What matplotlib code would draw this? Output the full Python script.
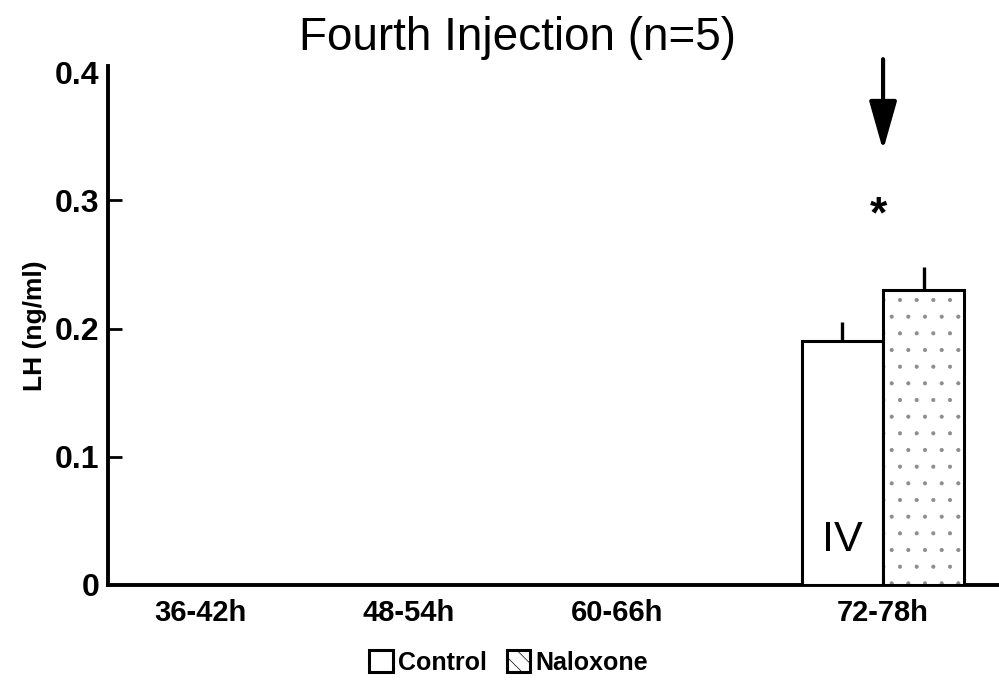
import matplotlib
matplotlib.use("Agg")
import matplotlib.pyplot as plt
from matplotlib.patches import Patch

plt.rcParams['font.family'] = ['Liberation Sans', 'DejaVu Sans']
plt.rcParams['hatch.linewidth'] = 0.5

# Data
categories = ["36-42h", "48-54h", "60-66h", "72-78h"]
cat_pos = [0.0, 1.0, 2.0, 3.276]          # group centres along the time axis
control_mean = [None, None, None, 0.19]
control_se = [None, None, None, 0.015]
naloxone_mean = [None, None, None, 0.23]
naloxone_se = [None, None, None, 0.018]
star_value = 0.288
injection_label = "IV"

fig = plt.figure(figsize=(9.99, 6.81), dpi=100)
ax = fig.add_axes([108 / 999, 96 / 681, 1 - 108 / 999, 519.4 / 681])

bw = 0.39
for x, cm, cs, nm, ns in zip(cat_pos, control_mean, control_se, naloxone_mean, naloxone_se):
    if cm is not None:
        ax.bar(x - bw / 2, cm, width=bw, facecolor='white', edgecolor='black',
               linewidth=2.2, zorder=3)
        ax.errorbar(x - bw / 2, cm, yerr=[[0], [cs]], fmt='none', ecolor='black',
                    elinewidth=2.4, capsize=0, zorder=4)
        ax.text(x - bw / 2, 0.035, injection_label, ha='center', va='center',
                fontsize=31, zorder=5)
    if nm is not None:
        ax.bar(x + bw / 2, nm, width=bw, facecolor='white', edgecolor='none',
               linewidth=0, zorder=3)
        ax.bar(x + bw / 2, nm, width=bw, facecolor='none', edgecolor='#8c8c8c',
               hatch='.', linewidth=0, zorder=3.5)
        ax.bar(x + bw / 2, nm, width=bw, facecolor='none', edgecolor='black',
               linewidth=2.2, zorder=3.6)
        ax.errorbar(x + bw / 2, nm, yerr=[[0], [ns]], fmt='none', ecolor='black',
                    elinewidth=2.4, capsize=0, zorder=4)
        # significance marker and injection arrow
        ax.text(x - 0.02, star_value, "*", ha='center', va='center', fontsize=32,
                fontweight='bold')
        ax.annotate("", xy=(x, 0.339), xytext=(x, 0.41),
                    arrowprops=dict(arrowstyle='-|>,head_length=3.0,head_width=0.85',
                                    color='black', lw=3, shrinkA=0, shrinkB=0),
                    annotation_clip=False)

ax.set_xlim(-0.441, 3.832)
ax.set_ylim(0, 0.405)

ax.spines['top'].set_visible(False)
ax.spines['right'].set_visible(False)
ax.spines['left'].set_linewidth(2.8)
ax.spines['bottom'].set_linewidth(2.8)

ax.set_yticks([0, 0.1, 0.2, 0.3, 0.4])
ax.set_yticklabels(["0", "0.1", "0.2", "0.3", "0.4"])
ax.tick_params(axis='y', direction='in', length=10, width=2, labelsize=23, pad=6)
for t in ax.get_yticklabels():
    t.set_fontweight('bold')
ax.yaxis.get_major_ticks()[0].tick1line.set_visible(False)
ax.yaxis.get_major_ticks()[-1].tick1line.set_visible(False)

ax.set_xticks(cat_pos)
ax.set_xticklabels(categories, fontsize=21, fontweight='bold')
ax.tick_params(axis='x', length=0, pad=10)

ax.set_ylabel("LH (ng/ml)", fontsize=19, fontweight='bold', labelpad=6)

fig.text(0.518, 0.944, "Fourth Injection (n=5)", ha='center', va='center', fontsize=33)

handles = [Patch(facecolor='white', edgecolor='black', linewidth=2.2, label='Control'),
           Patch(facecolor='white', edgecolor='black', linewidth=2.2, hatch='\\\\',
                 label='Naloxone')]
leg = fig.legend(handles=handles, loc='center', bbox_to_anchor=(0.509, 0.027),
                 ncol=2, frameon=False, fontsize=18, handlelength=0.95,
                 handleheight=0.95, handletextpad=0.2, columnspacing=0.8)
for t in leg.get_texts():
    t.set_fontweight('bold')

fig.savefig("out.png", dpi=100)
